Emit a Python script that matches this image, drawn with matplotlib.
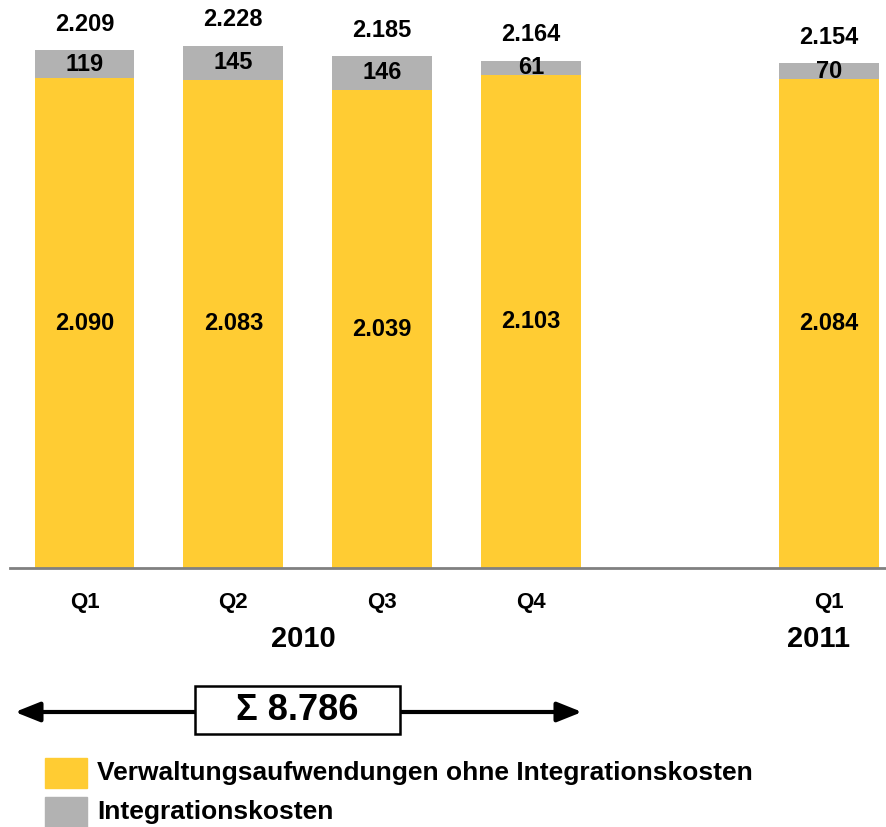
import matplotlib.pyplot as plt
from matplotlib.patches import Rectangle

plt.rcParams['font.family'] = ['Liberation Sans', 'DejaVu Sans']
plt.rcParams['font.weight'] = 'bold'

quarters = ['Q1', 'Q2', 'Q3', 'Q4', 'Q1']
slots = [0, 1, 2, 3, 5]
verwaltung = [2090, 2083, 2039, 2103, 2084]
integration = [119, 145, 146, 61, 70]
years = ['2010', '2011']
year_pos = [1.47, 4.93]
sigma_label = 'Σ 8.786'
legend_labels = ['Verwaltungsaufwendungen ohne Integrationskosten', 'Integrationskosten']

YELLOW = '#FFCC33'
GREY = '#B2B2B2'


def de(v):
    """german thousands separator"""
    return f"{v:,}".replace(",", ".")


W, H = 887, 827
fig = plt.figure(figsize=(W / 100, H / 100), dpi=100)
ax = fig.add_axes([10 / W, 1 - 568 / H, 877 / W, 568 / H])

totals = [a + b for a, b in zip(verwaltung, integration)]
ax.bar(slots, verwaltung, width=0.67, color=YELLOW)
ax.bar(slots, integration, width=0.67, bottom=verwaltung, color=GREY)

for x, v, i, t in zip(slots, verwaltung, integration, totals):
    ax.text(x, v / 2, de(v), ha='center', va='center', fontsize=17)
    ax.text(x, v + i / 2, de(i), ha='center', va='center', fontsize=17)
    ax.text(x, t + 110, de(t), ha='center', va='center', fontsize=17)

ax.set_xlim(-0.5, 5.39)
ax.set_ylim(0, 2423)
for s in ['top', 'right', 'left']:
    ax.spines[s].set_visible(False)
ax.spines['bottom'].set_color('#808080')
ax.spines['bottom'].set_linewidth(2)
ax.set_yticks([])
ax.set_xticks(slots, quarters, fontsize=16)
ax.tick_params(axis='x', length=0, pad=17)

for y, xp in zip(years, year_pos):
    ax.text(xp, -305, y, ha='center', va='center', fontsize=21)

# double arrow with sum box
ax.annotate('', xy=(582, H - 712), xytext=(15, H - 712),
            xycoords='figure pixels', textcoords='figure pixels',
            arrowprops=dict(arrowstyle='<|-|>,head_length=1.5,head_width=0.6',
                            color='black', lw=3, shrinkA=0, shrinkB=0),
            annotation_clip=False)
fig.patches.append(Rectangle((195 / W, 1 - 734 / H), 205 / W, 48 / H,
                             transform=fig.transFigure, facecolor='white',
                             edgecolor='black', lw=1.8, zorder=5))
fig.text(297 / W, 1 - 710 / H, sigma_label, ha='center', va='center',
         fontsize=26, zorder=6)

# legend
for k, (lab, col) in enumerate(zip(legend_labels, [YELLOW, GREY])):
    top = 758 + k * 39
    fig.patches.append(Rectangle((45 / W, 1 - (top + 30) / H), 42 / W, 30 / H,
                                 transform=fig.transFigure, color=col))
    fig.text(97 / W, 1 - (top + 15) / H, lab, ha='left', va='center', fontsize=19)

fig.savefig('out.png', dpi=100)
